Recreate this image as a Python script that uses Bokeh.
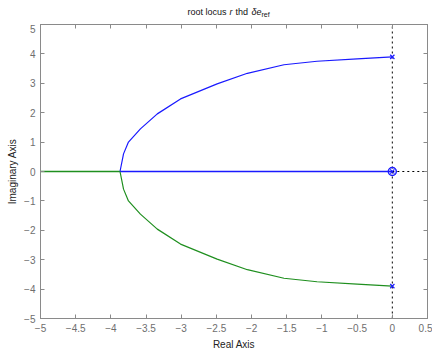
from bokeh.plotting import figure
from bokeh.models import Range1d, LinearAxis, FixedTicker
from bokeh.layouts import column
from bokeh.core.properties import value
from bokeh.embed import file_html
from bokeh.resources import INLINE

# ---- data ----
x_ticks = [-5, -4.5, -4, -3.5, -3, -2.5, -2, -1.5, -1, -0.5, 0, 0.5]
y_ticks = [-5, -4, -3, -2, -1, 0, 1, 2, 3, 4, 5]

# upper complex branch (blue)
upper_re = [-3.87, -3.82, -3.75, -3.58, -3.34, -3.01, -2.49, -2.06, -1.54, -1.07, -0.50, 0.0]
upper_im = [0.0, 0.60, 1.00, 1.45, 1.96, 2.47, 2.98, 3.34, 3.63, 3.75, 3.83, 3.90]

# lower complex branch (green)
lower_re = [-3.87, -3.82, -3.75, -3.58, -3.34, -3.01, -2.49, -2.06, -1.54, -1.07, -0.50, 0.0]
lower_im = [0.0, -0.60, -1.00, -1.45, -1.96, -2.47, -2.98, -3.34, -3.63, -3.75, -3.83, -3.90]

# real-axis branches
blue_real_re = [-3.87, 0.0]
blue_real_im = [0.0, 0.0]
green_real_re = [-5.0, -3.87]
green_real_im = [0.0, 0.0]

pole_re = [0.0, 0.0, 0.0]
pole_im = [3.90, -3.90, 0.0]
zero_re = [0.0]
zero_im = [0.0]

title_parts = ["root locus", "r", "thd", "δe", "ref"]

BLUE = "#1a1aff"
GREEN = "#1f8f1f"
AXC = "#8a8a8a"
TXT = "#6e6e6e"
FONT = "Liberation Sans"

# ---------- title strip (x range in page pixels, aligned with main frame) ----------
t = figure(frame_width=387, frame_height=24,
           min_border_left=40, min_border_right=5, min_border_top=0, min_border_bottom=0,
           x_range=Range1d(40, 427), y_range=Range1d(24, 0),
           output_backend="svg", toolbar_location=None)
t.axis.visible = False
t.grid.visible = False
t.outline_line_color = None
t.background_fill_color = "white"
t.border_fill_color = "white"
tx = [187, 229, 235, 251, 261]
ty = [11, 11, 11, 11, 14]
styles = ["normal", "italic", "normal", "italic", "normal"]
sizes = ["9px", "9px", "9px", "9px", "7px"]
for txt, xx, yy, st, sz in zip(title_parts, tx, ty, styles, sizes):
    t.text(x=[xx], y=[yy], text=[txt], text_font=value(FONT), text_font_size=sz,
           text_font_style=st, text_color="#111111",
           text_baseline="alphabetic", text_align="left")

# ---------- main plot ----------
p = figure(frame_width=387, frame_height=294,
           min_border_left=40, min_border_right=5,
           min_border_top=0, min_border_bottom=34,
           x_range=Range1d(-5, 0.5), y_range=Range1d(-5, 5),
           output_backend="svg", toolbar_location=None)
p.background_fill_color = "white"
p.border_fill_color = "white"
p.outline_line_color = AXC
p.xgrid.visible = False
p.ygrid.visible = False


def style_axis(ax, ticks, show_labels):
    ax.ticker = FixedTicker(ticks=ticks)
    ax.major_tick_in = 4
    ax.major_tick_out = 0
    ax.minor_tick_line_color = None
    ax.axis_line_color = AXC
    ax.major_tick_line_color = AXC
    ax.major_label_text_font = FONT
    ax.major_label_text_color = TXT
    if show_labels:
        ax.major_label_text_font_size = "10px"
        ax.major_label_standoff = 5
    else:
        ax.major_label_overrides = {tk: "" for tk in ticks}
        ax.major_label_text_font_size = "1px"
        ax.major_label_standoff = 0


style_axis(p.xaxis[0], x_ticks, True)
style_axis(p.yaxis[0], y_ticks, True)
p.xaxis[0].axis_label = "Real Axis"
p.yaxis[0].axis_label = "Imaginary Axis"
for ax, st in ((p.xaxis[0], 4), (p.yaxis[0], 3)):
    ax.axis_label_text_font = FONT
    ax.axis_label_text_font_size = "10px"
    ax.axis_label_text_font_style = "normal"
    ax.axis_label_text_color = "#222222"
    ax.axis_label_standoff = st

top_ax = LinearAxis()
style_axis(top_ax, x_ticks, False)
p.add_layout(top_ax, "above")
right_ax = LinearAxis()
style_axis(right_ax, y_ticks, False)
p.add_layout(right_ax, "right")

# dotted axes lines
p.line([0, 0], [-5, 5], line_color="black", line_dash="2 3", line_width=1)
p.line([0, 0.5], [0, 0], line_color="black", line_dash="2 3", line_width=1)

# branches
p.line(green_real_re, green_real_im, line_color=GREEN, line_width=1.3)
p.line(blue_real_re, blue_real_im, line_color=BLUE, line_width=1.3)
p.line(upper_re, upper_im, line_color=BLUE, line_width=1.2)
p.line(lower_re, lower_im, line_color=GREEN, line_width=1.2)

# poles and zeros
p.scatter(pole_re, pole_im, marker="x", size=6, line_color=BLUE, line_width=1.2)
p.scatter(zero_re, zero_im, marker="circle", size=8, line_color=BLUE,
          fill_color=None, line_width=1.5)

layout = column(t, p, spacing=0)
open("out.html", "w").write(file_html(layout, INLINE))
